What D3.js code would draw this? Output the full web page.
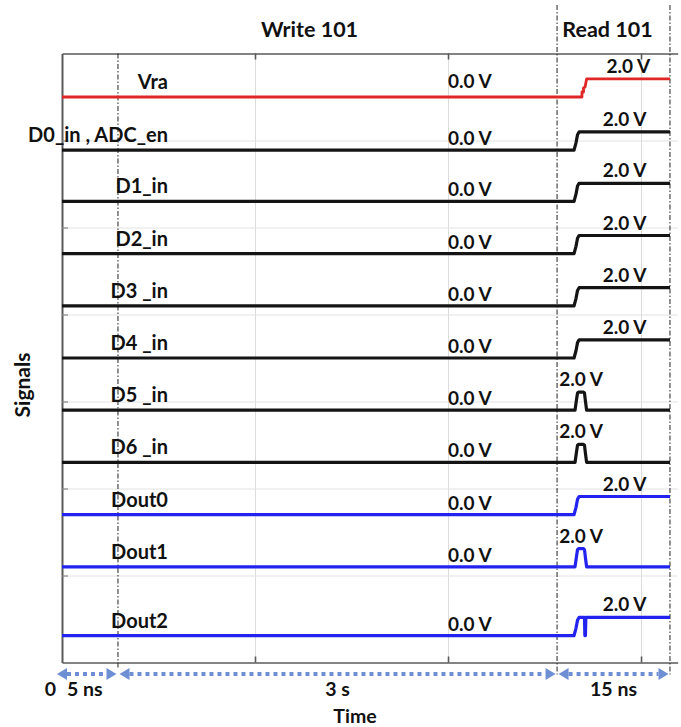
<!DOCTYPE html>
<html>
<head>
<meta charset="utf-8">
<script src="https://cdn.jsdelivr.net/npm/d3@7"></script>
<style>
  html, body { margin: 0; padding: 0; background: #fff; }
  svg { display: block; font-family: Lato, "Open Sans", sans-serif; font-weight: bold; }
</style>
</head>
<body>
<svg id="chart" width="681" height="727"></svg>
<script>
// ---------------- data ----------------
const signalNames = ["Vra", "D0_in , ADC_en", "D1_in", "D2_in", "D3 _in", "D4 _in",
                     "D5 _in", "D6 _in", "Dout0", "Dout1", "Dout2"];
const signalGroup = ["vra", "in", "in", "in", "in", "in", "in", "in", "out", "out", "out"];
// trace offsets (stacked-plot units)
const laneOffsets = [6.5, 5.89, 5.3, 4.7, 4.1, 3.5, 2.9, 2.3, 1.7, 1.1, 0.31];
// waveform shapes: time in plot units, voltage in V
const vraT   = [0, 2.694, 2.694, 2.702, 2.702, 2.710, 2.718, 3.150];
const vraV   = [0, 0,     0.55,  0.55,  1.0,   1.1,   2.0,   2.0];
const stepT  = [0, 2.653, 2.663, 2.671, 2.679, 3.150];
const stepV  = [0, 0,     0.8,   1.7,   2.0,   2.0];
const pulseT = [0, 2.658, 2.666, 2.671, 2.676, 2.702, 2.707, 2.712, 2.718, 3.150];
const pulseV = [0, 0,     1.2,   1.9,   2.0,   2.0,   1.9,   1.0,   0,     0];
const glitchT = [0, 2.653, 2.663, 2.671, 2.679, 2.707, 2.709, 2.712, 2.714, 3.150];
const glitchV = [0, 0,     0.8,   1.7,   2.0,   2.0,   0,     0,     2.0,   2.0];
const signalShape = ["vra", "step", "step", "step", "step", "step", "pulse", "pulse", "step", "pulse", "glitch"];
const lowLabel = "0.0 V";
const highLabel = "2.0 V";
// time segments (plot units) and labels
const segBounds = [0, 0.29, 2.565, 3.15];
const segLabels = ["5 ns", "3 s", "15 ns"];
const startLabel = "0";
const phaseLabels = ["Write 101", "Read 101"];
const phaseSpans = [[0, 2.565], [2.565, 3.15]];
const xTicks = [1, 2, 3];
const yTicks = [1, 2, 3, 4, 5, 6];
const xTitle = "Time";
const yTitle = "Signals";

// ---------------- layout ----------------
const shapes = {
  vra: {t: vraT, v: vraV}, step: {t: stepT, v: stepV},
  pulse: {t: pulseT, v: pulseV}, glitch: {t: glitchT, v: glitchV}
};
const colors = {vra: "#e02626", in: "#141414", out: "#2323f0"};
const voltsToUnits = 0.104;

const svg = d3.select("#chart");
const x = d3.scaleLinear().domain([0, 3.19]).range([62, 677.7]);
const y = d3.scaleLinear().domain([0, 7]).range([662.5, 53.5]);

// grid
svg.append("g")
  .attr("transform", `translate(0,${y(0)})`)
  .call(d3.axisBottom(x).tickValues(xTicks).tickSize(-(y(0) - y(7))).tickFormat(""))
  .call(g => g.select(".domain").remove())
  .call(g => g.selectAll("line").attr("stroke", "#dcdcdc").attr("stroke-width", 1));
svg.append("g")
  .attr("transform", `translate(${x(0)},0)`)
  .call(d3.axisLeft(y).tickValues(yTicks).tickSize(-(x(3.19) - x(0))).tickFormat(""))
  .call(g => g.select(".domain").remove())
  .call(g => g.selectAll("line").attr("stroke", "#e2e2e2").attr("stroke-width", 1));

// frame axes with inward ticks
const axisColor = "#5a5a5a";
svg.append("g")
  .attr("transform", `translate(0,${y(0)})`)
  .call(d3.axisBottom(x).tickValues(xTicks).tickSize(-6).tickSizeOuter(0).tickFormat(""))
  .call(g => g.selectAll("path,line").attr("stroke", axisColor).attr("stroke-width", 1.6));
svg.append("g")
  .attr("transform", `translate(0,${y(7)})`)
  .call(d3.axisTop(x).tickValues(xTicks).tickSize(-6).tickSizeOuter(0).tickFormat(""))
  .call(g => g.selectAll("path,line").attr("stroke", axisColor).attr("stroke-width", 1.6));
svg.append("g")
  .attr("transform", `translate(${x(0)},0)`)
  .call(d3.axisLeft(y).tickValues(yTicks).tickSize(-6).tickSizeOuter(0).tickFormat(""))
  .call(g => g.select(".domain").attr("stroke", axisColor).attr("stroke-width", 2))
  .call(g => g.selectAll("line").attr("stroke", "#888").attr("stroke-width", 1.2));

// segment separators (dash-dot)
segBounds.slice(1).forEach((b, i) => {
  svg.append("line")
    .attr("x1", x(b)).attr("x2", x(b))
    .attr("y1", i === 0 ? y(7) : 5)
    .attr("y2", i === 0 ? y(0) + 5 : y(0) + 12)
    .attr("stroke", "#222").attr("stroke-width", 1)
    .attr("stroke-dasharray", "5,2,1.5,2");
});

// phase titles
phaseLabels.forEach((p, i) => {
  svg.append("text")
    .attr("x", (x(phaseSpans[i][0]) + x(phaseSpans[i][1])) / 2 - (i === 1 ? 6 : 0))
    .attr("y", 37)
    .attr("text-anchor", "middle")
    .attr("font-size", 21.5).attr("fill", "#111")
    .text(p);
});

// waveforms
const line = d3.line();
signalNames.forEach((name, i) => {
  const sh = shapes[signalShape[i]];
  const col = colors[signalGroup[i]];
  const pts = sh.t.map((t, k) => [x(t), y(laneOffsets[i] + sh.v[k] * voltsToUnits)]);
  svg.append("path")
    .attr("d", line(pts))
    .attr("fill", "none")
    .attr("stroke", col)
    .attr("stroke-width", signalGroup[i] === "vra" ? 2.8 : 3.2)
    .attr("stroke-linejoin", "round");

  const yLow = y(laneOffsets[i]);
  // signal name
  svg.append("text")
    .attr("x", x(0.549)).attr("y", yLow - 8)
    .attr("text-anchor", "end")
    .attr("font-size", 20).attr("fill", "#111")
    .text(name);
  // low level label
  svg.append("text")
    .attr("x", x(2)).attr("y", yLow - (i === 0 ? 9 : 5))
    .attr("font-size", 19).attr("fill", "#111")
    .text(lowLabel);
  // high level label centred over the high segment
  const hiIdx = sh.v.map((v, k) => v >= 2 ? k : -1).filter(k => k >= 0);
  const tMid = (sh.t[hiIdx[0]] + sh.t[hiIdx[hiIdx.length - 1]]) / 2;
  svg.append("text")
    .attr("x", x(tMid)).attr("y", y(laneOffsets[i] + 2 * voltsToUnits) - 6)
    .attr("text-anchor", "middle")
    .attr("font-size", 19).attr("fill", "#111")
    .text(highLabel);
});

// time segment arrows
const arrowColor = "#6e8fd3";
const ay = 674;
segBounds.slice(0, -1).forEach((b0, i) => {
  const b1 = segBounds[i + 1];
  const xl = x(b0) + (i === 0 ? -5 : 1.5);
  const xr = x(b1) - 1.5;
  const head = 10;
  svg.append("line")
    .attr("x1", xl + head).attr("x2", xr - head)
    .attr("y1", ay).attr("y2", ay)
    .attr("stroke", arrowColor).attr("stroke-width", 4)
    .attr("stroke-dasharray", "4,4");
  svg.append("path")
    .attr("d", `M${xl},${ay} L${xl + head},${ay - 6} L${xl + head},${ay + 6} Z`)
    .attr("fill", arrowColor);
  svg.append("path")
    .attr("d", `M${xr},${ay} L${xr - head},${ay - 6} L${xr - head},${ay + 6} Z`)
    .attr("fill", arrowColor);
  svg.append("text")
    .attr("x", i === 0 ? x(b0) + 5 : (x(b0) + x(b1)) / 2)
    .attr("y", 696)
    .attr("text-anchor", i === 0 ? "start" : "middle")
    .attr("font-size", 19.5).attr("fill", "#111")
    .text(segLabels[i]);
});
svg.append("text")
  .attr("x", x(0) - 6).attr("y", 696)
  .attr("text-anchor", "end")
  .attr("font-size", 19.5).attr("fill", "#111")
  .text(startLabel);

// axis titles
svg.append("text")
  .attr("x", 355).attr("y", 723)
  .attr("text-anchor", "middle")
  .attr("font-size", 19.5).attr("fill", "#111")
  .text(xTitle);
svg.append("text")
  .attr("transform", "translate(30,385) rotate(-90)")
  .attr("text-anchor", "middle")
  .attr("font-size", 21).attr("fill", "#111")
  .text(yTitle);
</script>
</body>
</html>
